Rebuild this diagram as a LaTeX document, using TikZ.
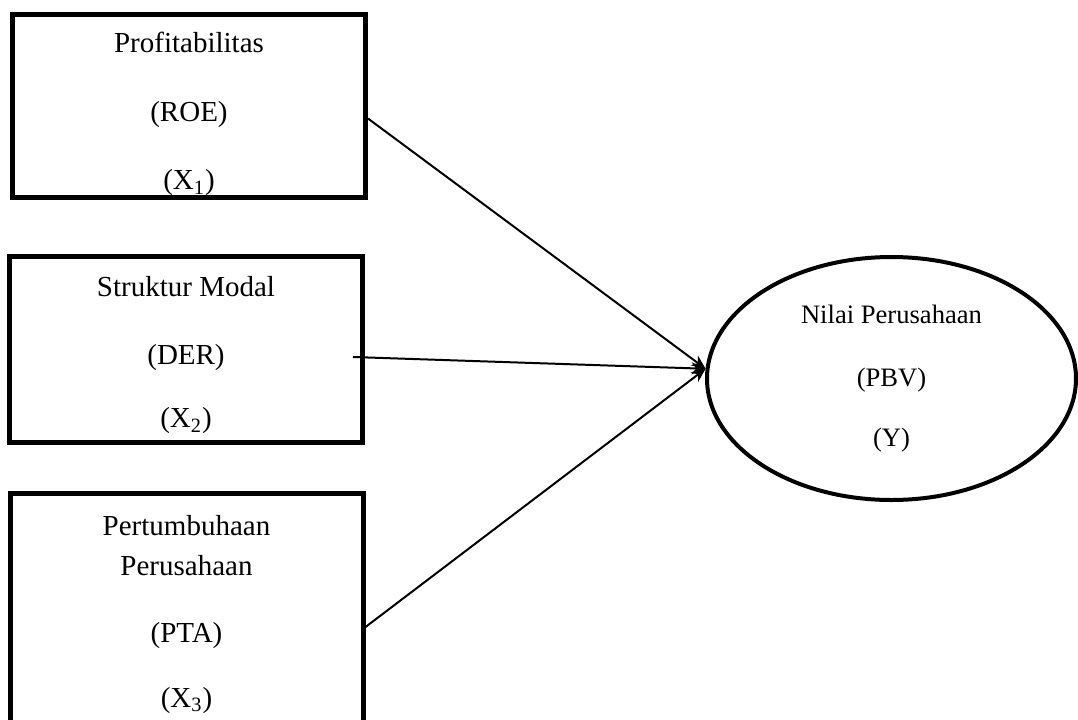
\documentclass[tikz,border=0pt]{standalone}
\usepackage{fontspec}
\setmainfont{Liberation Serif}
\usetikzlibrary{shapes.geometric, arrows.meta}

\newcommand\varfont{\fontsize{14.5}{17.4}\selectfont}
\newcommand\yfont{\fontsize{13.3}{16}\selectfont}

\begin{document}
\begin{tikzpicture}[x=0.5pt, y=-0.5pt,
    varbox/.style={draw, rectangle, line width=2.5pt, minimum width=176.5pt, inner ysep=0pt, align=center, font=\varfont},
    arrowline/.style={-{Stealth[length=7pt, width=6pt]}, line width=1pt}]
    \useasboundingbox (0,0) rectangle (1078,719);
    \draw

    (189,106)node[varbox, minimum height=91.5pt](roe){\rule{0pt}{18pt}Profitabilitas\\[17.5pt](ROE)\\[16.6pt](X\textsubscript{1})}
    (186,349.5)node[varbox, minimum height=93pt](der){\rule{0pt}{15.5pt}Struktur Modal\\[16.6pt](DER)\\[14.5pt](X\textsubscript{2})}
    (186.5,614.5)node[varbox, minimum height=121pt](pta){Pertumbuhaan\\[2.6pt]Perusahaan\\[16pt](PTA)\\[15pt](X\textsubscript{3})}
    (891.5,378.5)node[draw, ellipse, line width=2pt, minimum width=184.5pt, minimum height=121.5pt, inner sep=0pt, align=center, font=\yfont](pbv){Nilai Perusahaan\\[15.5pt](PBV)\\[14pt](Y)}

    ;
    \coordinate (derout) at (353,357);

    \draw[arrowline] (roe.-4) -- (pbv.177);
    \draw[arrowline] (derout) -- (pbv.177);
    \draw[arrowline] (pta.-4) -- (pbv.177);
\end{tikzpicture}
\end{document}
